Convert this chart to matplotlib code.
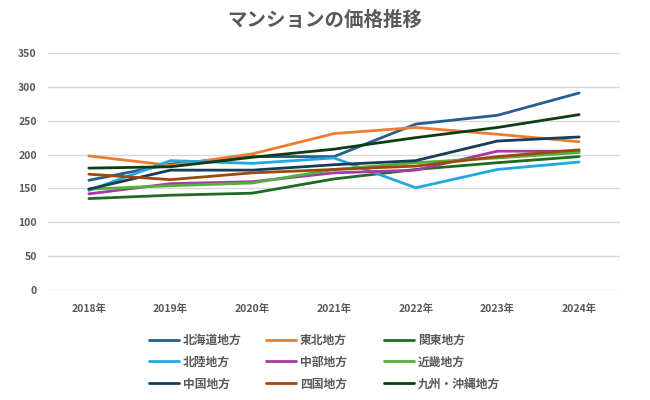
import matplotlib
matplotlib.use("Agg")
import matplotlib.pyplot as plt

plt.rcParams['font.family'] = ['Noto Sans CJK JP', 'DejaVu Sans']

years = ["2018年", "2019年", "2020年", "2021年", "2022年", "2023年", "2024年"]
regions = ["北海道地方", "東北地方", "関東地方", "北陸地方", "中部地方",
           "近畿地方", "中国地方", "四国地方", "九州・沖縄地方"]
hokkaido = [162, 186, 197, 197, 245, 258, 291]
tohoku = [198, 184, 201, 231, 240, 230, 219]
kanto = [135, 140, 143, 164, 178, 188, 197]
hokuriku = [147, 191, 187, 195, 151, 178, 189]
chubu = [142, 157, 160, 173, 177, 205, 205]
kinki = [149, 154, 158, 178, 188, 195, 203]
chugoku = [149, 177, 177, 185, 191, 220, 226]
shikoku = [171, 163, 173, 178, 183, 197, 207]
kyushu = [180, 182, 196, 208, 225, 240, 259]
yticks = [0, 50, 100, 150, 200, 250, 300, 350]

series = [hokkaido, tohoku, kanto, hokuriku, chubu, kinki, chugoku, shikoku, kyushu]
colors = ["#255e91", "#ed7d31", "#1e6b24", "#22a7e0", "#a33ba7",
          "#56b039", "#163c58", "#9e480e", "#0e3d14"]

fig = plt.figure(figsize=(6.5, 4.0), dpi=100)
ax = fig.add_axes([48/650, 1-290/400, 572/650, 237/400])
x = list(range(len(years)))
handles = []
for vals, c, name in zip(series, colors, regions):
    h, = ax.plot(x, vals, color=c, lw=2.0, label=name, solid_capstyle='round')
    handles.append(h)

ax.set_xlim(-0.5, len(years) - 0.5)
ax.set_ylim(0, 350)
ax.set_yticks(yticks)
ax.set_xticks(x)
ax.set_xticklabels(years)
ax.grid(axis='y', color='#d9d9d9', lw=1.0)
ax.set_axisbelow(True)
for s in ax.spines.values():
    s.set_visible(False)
ax.tick_params(length=0, labelsize=7.5, labelcolor='#595959', pad=8)
for lab in ax.get_xticklabels() + ax.get_yticklabels():
    lab.set_fontweight('bold')
ax.tick_params(axis='x', pad=10)

fig.text(0.5, 1-20/400, "マンションの価格推移", ha='center', va='center',
         fontsize=14, fontweight='bold', color='#595959')

# legend: three columns, row-major order like the reference
col_x = [144, 261, 379]
for ci in range(3):
    idx = [ci, ci + 3, ci + 6]
    leg = fig.legend(handles=[handles[i] for i in idx],
                     labels=[regions[i] for i in idx], ncol=1,
                     loc='upper left', bbox_to_anchor=(col_x[ci]/650, 1-329/400),
                     frameon=False, fontsize=8.5, handlelength=2.6,
                     handletextpad=0.3, labelspacing=0.75, borderaxespad=0)
    for t in leg.get_texts():
        t.set_color('#595959')
        t.set_fontweight('bold')

fig.savefig("out.png", dpi=100)
